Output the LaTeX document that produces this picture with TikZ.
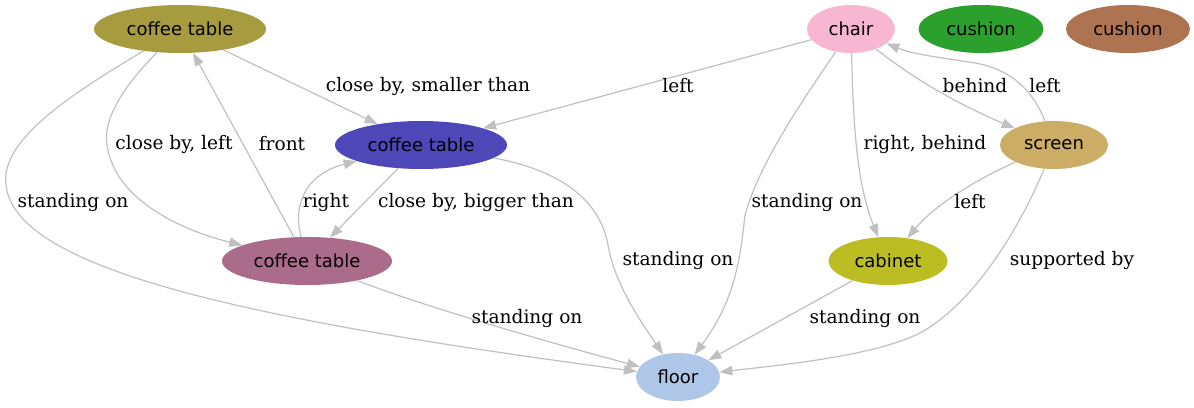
\documentclass[tikz,border=0pt]{standalone}
\usepackage{fontspec}
\setmainfont{DejaVu Serif}
\newfontfamily\nodefont{DejaVu Sans}
\usetikzlibrary{shapes.geometric,arrows.meta}
\definecolor{ctA}{HTML}{A69C3F}
\definecolor{ctB}{HTML}{4E47B7}
\definecolor{ctC}{HTML}{AB6B8A}
\definecolor{chairc}{HTML}{F7B6D2}
\definecolor{cushG}{HTML}{2CA02C}
\definecolor{cushB}{HTML}{AE7350}
\definecolor{screenc}{HTML}{CBAD65}
\definecolor{cabc}{HTML}{BCBD22}
\definecolor{floorc}{HTML}{AEC7E8}
\definecolor{edgec}{HTML}{C0C0C0}
\begin{document}
\begin{tikzpicture}[x=1pt,y=-1pt,
  obj/.style={ellipse,inner sep=0pt,minimum height=48pt,text=black,
    font=\nodefont\fontsize{18}{20}\selectfont},
  lbl/.style={inner sep=0pt,text=black,font=\fontsize{18.6}{21}\selectfont},
  rel/.style={draw=edgec,line width=1.2pt,
    -{Triangle[length=13pt,width=9.5pt,fill=edgec]}}]
\useasboundingbox (0,0) rectangle (1194,407);
% nodes
\node[obj,fill=ctA,minimum width=172pt] (ct1) at (180,29) {coffee table};
\node[obj,fill=ctB,minimum width=172pt] (ct2) at (421,145) {coffee table};
\node[obj,fill=ctC,minimum width=170pt] (ct3) at (307,261) {coffee table};
\node[obj,fill=chairc,minimum width=88pt] (chair) at (851,29) {chair};
\node[obj,fill=cushG,minimum width=125pt] (cush1) at (981,29) {cushion};
\node[obj,fill=cushB,minimum width=124pt] (cush2) at (1128,29) {cushion};
\node[obj,fill=screenc,minimum width=108pt] (screen) at (1054,145) {screen};
\node[obj,fill=cabc,minimum width=119pt] (cabinet) at (888,261) {cabinet};
\node[obj,fill=floorc,minimum width=84pt] (floor) at (678,377) {floor};
% edges
\draw[rel] (ct1) .. controls (70,95) and (0,140) .. (6,185)
  .. controls (15,270) and (250,320) .. (floor);
\draw[rel] (ct1) .. controls (125,85) and (100,120) .. (108,150)
  .. controls (118,200) and (180,230) .. (ct3);
\draw[rel] (ct3) -- (ct1);
\draw[rel] (ct1) -- (ct2);
\draw[rel] (chair) -- (ct2);
\draw[rel] (ct3) .. controls (291,197) and (313,172) .. (ct2);
\draw[rel] (ct2) -- (ct3);
\draw[rel] (ct2) .. controls (560,170) and (600,200) .. (608,245)
  .. controls (615,285) and (640,320) .. (floor);
\draw[rel] (ct3) .. controls (420,305) and (540,340) .. (floor);
\draw[rel] (chair) .. controls (810,90) and (760,160) .. (745,215)
  .. controls (740,260) and (735,300) .. (floor);
\draw[rel] (chair) .. controls (853,110) and (855,180) .. (cabinet);
\draw[rel] (chair) .. controls (915,80) and (960,105) .. (screen);
\draw[rel] (screen) .. controls (1035,95) and (1015,70) .. (975,63)
  .. controls (945,58) and (915,55) .. (chair);
\draw[rel] (screen) .. controls (975,180) and (935,205) .. (cabinet);
\draw[rel] (screen) .. controls (1025,215) and (985,290) .. (930,327)
  .. controls (890,355) and (780,365) .. (floor);
\draw[rel] (cabinet) -- (floor);
% labels
\node[lbl] (l1) at (73,202) {standing on};
\node[lbl] (l2) at (174,144) {close by, left};
\node[lbl] (l3) at (282,144) {front};
\node[lbl] (l4) at (428,86) {close by, smaller than};
\node[lbl] (l5) at (678,86) {left};
\node[lbl] (l6) at (326,202) {right};
\node[lbl] (l7) at (476,202) {close by, bigger than};
\node[lbl] (l8) at (678,260) {standing on};
\node[lbl] (l9) at (527,318) {standing on};
\node[lbl] (l10) at (807,202) {standing on};
\node[lbl] (l11) at (925,144) {right, behind};
\node[lbl] (l12) at (975,86) {behind};
\node[lbl] (l13) at (1045,86) {left};
\node[lbl] (l14) at (970,202) {left};
\node[lbl] (l15) at (1072,260) {supported by};
\node[lbl] (l16) at (865,318) {standing on};
\end{tikzpicture}
\end{document}
